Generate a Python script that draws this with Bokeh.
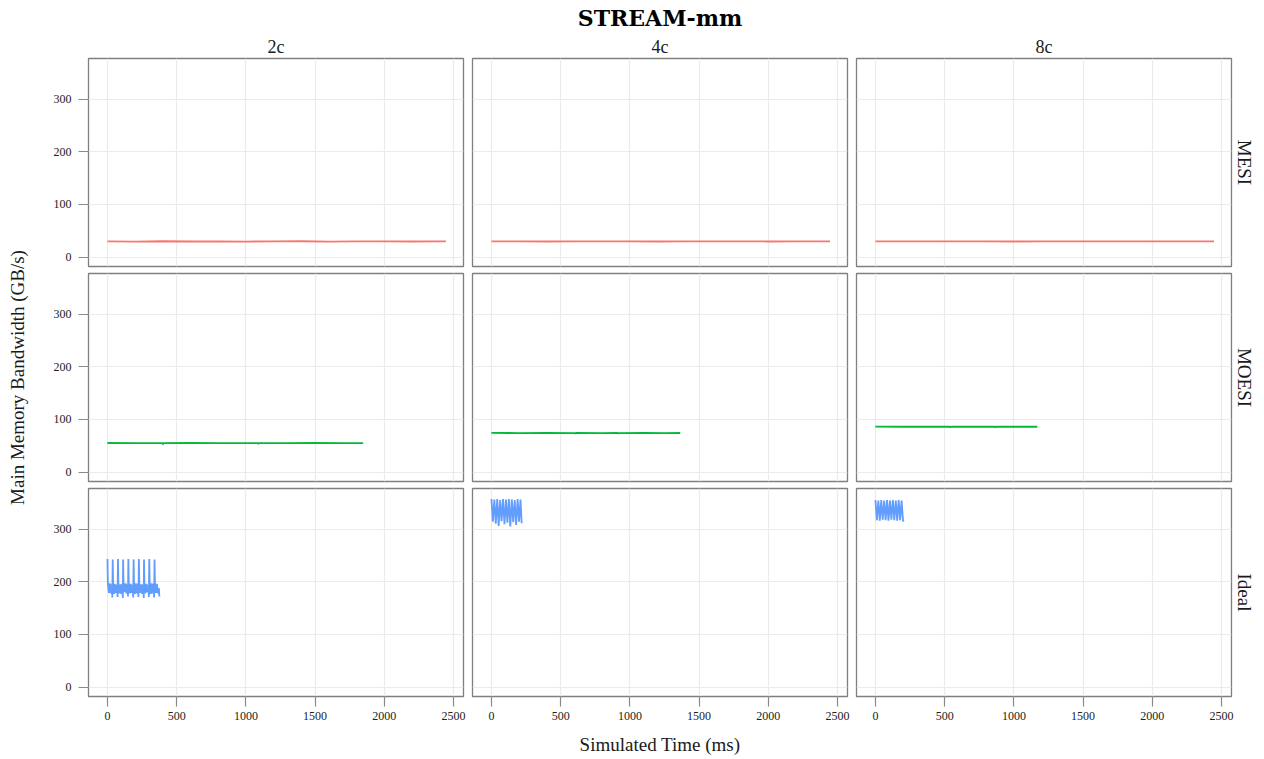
from bokeh.plotting import figure
from bokeh.layouts import gridplot, row
from bokeh.models import Range1d, LinearAxis, Grid, FixedTicker, Title
from bokeh.embed import file_html
from bokeh.resources import INLINE

# ---------------- data ----------------
cores = ["2c", "4c", "8c"]
protocols = ["MESI", "MOESI", "Ideal"]
x_ticks = [0, 500, 1000, 1500, 2000, 2500]
y_ticks = [0, 100, 200, 300]
chart_title = "STREAM-mm"
x_title = "Simulated Time (ms)"
y_title = "Main Memory Bandwidth (GB/s)"
colors = {"MESI": "#F8766D", "MOESI": "#00BA38", "Ideal": "#619CFF"}

mesi_2c_t = [0, 200, 400, 600, 800, 1000, 1200, 1400, 1600, 1800, 2000, 2200, 2400, 2445]
mesi_2c_v = [29.8, 29.5, 30.0, 29.6, 29.9, 29.4, 29.8, 30.0, 29.5, 29.7, 29.9, 29.6, 29.8, 29.7]
mesi_4c_t = [0, 200, 400, 600, 800, 1000, 1200, 1400, 1600, 1800, 2000, 2200, 2400, 2446]
mesi_4c_v = [29.7, 29.8, 29.6, 29.8, 29.7, 29.8, 29.6, 29.7, 29.8, 29.7, 29.6, 29.8, 29.7, 29.7]
mesi_8c_t = [0, 200, 400, 600, 800, 1000, 1200, 1400, 1600, 1800, 2000, 2200, 2400, 2446]
mesi_8c_v = [29.7, 29.7, 29.8, 29.7, 29.7, 29.6, 29.7, 29.8, 29.7, 29.7, 29.7, 29.8, 29.7, 29.7]

moesi_2c_t = [0, 200, 396, 400, 404, 600, 800, 1000, 1086, 1090, 1094, 1300, 1500, 1700, 1847]
moesi_2c_v = [55.2, 55.0, 55.1, 52.8, 55.0, 55.2, 55.0, 55.1, 55.0, 52.9, 55.1, 55.0, 55.2, 55.0, 55.1]
moesi_4c_t = [0, 200, 400, 602, 606, 610, 800, 912, 916, 920, 1100, 1250, 1364]
moesi_4c_v = [74.3, 74.1, 74.2, 74.1, 72.6, 74.2, 74.1, 74.2, 72.8, 74.1, 74.2, 74.1, 74.2]
moesi_8c_t = [0, 200, 400, 536, 540, 544, 700, 862, 866, 870, 1000, 1169]
moesi_8c_v = [86.2, 86.0, 86.1, 86.0, 84.6, 86.1, 86.0, 86.1, 84.8, 86.0, 86.1, 86.0]

ideal_2c_t = [0, 3, 10, 17, 24, 31, 35,
              38, 41, 48, 55, 62, 69, 73,
              76, 79, 86, 93, 100, 107, 111,
              113, 116, 123, 130, 137, 144, 148,
              151, 154, 161, 168, 175, 182, 186,
              189, 192, 199, 206, 213, 220, 224,
              227, 230, 237, 244, 251, 258, 262,
              264, 267, 274, 281, 288, 295, 299,
              302, 305, 312, 319, 326, 333, 337,
              340, 343, 350, 357, 364, 371, 375]
ideal_2c_v = [243, 196, 179, 197, 178, 195, 170,
              242, 195, 177, 196, 179, 194, 171,
              243, 197, 178, 195, 177, 196, 169,
              242, 196, 180, 197, 178, 195, 172,
              243, 195, 178, 196, 179, 194, 170,
              242, 196, 177, 197, 178, 196, 171,
              243, 197, 179, 195, 177, 195, 169,
              242, 195, 178, 196, 180, 194, 171,
              243, 196, 177, 197, 178, 196, 170,
              242, 197, 179, 196, 178, 188, 172]
ideal_4c_t = [0, 10, 21, 31, 42, 52, 63, 73, 84, 94, 105, 115, 126, 136, 147, 157,
              168, 178, 189, 199, 210, 218]
ideal_4c_v = [357, 314, 356, 310, 357, 306, 355, 315, 357, 309, 356, 312, 357, 305, 356, 313,
              355, 308, 357, 314, 356, 311]
ideal_8c_t = [0, 10, 21, 31, 42, 52, 63, 73, 84, 94, 105, 115, 126, 136, 147, 157,
              168, 178, 189, 199, 206]
ideal_8c_v = [355, 317, 354, 316, 355, 318, 354, 317, 355, 316, 354, 318, 355, 317, 354, 316,
              355, 317, 354, 316, 315]

series = {
    ("MESI", "2c"): (mesi_2c_t, mesi_2c_v),
    ("MESI", "4c"): (mesi_4c_t, mesi_4c_v),
    ("MESI", "8c"): (mesi_8c_t, mesi_8c_v),
    ("MOESI", "2c"): (moesi_2c_t, moesi_2c_v),
    ("MOESI", "4c"): (moesi_4c_t, moesi_4c_v),
    ("MOESI", "8c"): (moesi_8c_t, moesi_8c_v),
    ("Ideal", "2c"): (ideal_2c_t, ideal_2c_v),
    ("Ideal", "4c"): (ideal_4c_t, ideal_4c_v),
    ("Ideal", "8c"): (ideal_8c_t, ideal_8c_v),
}

# ---------------- style ----------------
FONT = "Liberation Serif"
GRID_COLOR = "#EBEBEB"
BORDER_COLOR = "#7F7F7F"
TICK_COLOR = "#8A8A8A"
TEXT_COLOR = "#1A1A1A"
LEFT_W = 30


def style_axis(ax):
    ax.axis_line_color = None
    ax.major_tick_line_color = TICK_COLOR
    ax.major_tick_line_width = 1.2
    ax.major_tick_out = 10
    ax.major_tick_in = 0
    ax.minor_tick_line_color = None
    ax.major_label_text_font = FONT
    ax.major_label_text_font_size = "12px"
    ax.major_label_text_color = "#222222"
    ax.axis_label_text_font = FONT
    ax.axis_label_text_font_size = "19px"
    ax.axis_label_text_font_style = "normal"
    ax.axis_label_text_color = TEXT_COLOR


rows = []
for ri, prot in enumerate(protocols):
    prow = []
    for ci, core in enumerate(cores):
        p = figure(
            frame_width=375, frame_height=208,
            x_range=Range1d(-137, 2572), y_range=Range1d(-17.9, 377),
            x_axis_location=None, y_axis_location=None,
            output_backend="svg", toolbar_location=None,
            background_fill_color="white", border_fill_color="white",
        )
        p.grid.visible = False
        p.outline_line_color = BORDER_COLOR
        p.outline_line_width = 1.3

        p.add_layout(Grid(dimension=0, ticker=FixedTicker(ticks=x_ticks),
                          grid_line_color=GRID_COLOR, grid_line_width=1.2))
        p.add_layout(Grid(dimension=1, ticker=FixedTicker(ticks=y_ticks),
                          grid_line_color=GRID_COLOR, grid_line_width=1.2))

        t, v = series[(prot, core)]
        p.line(t, v, line_color=colors[prot], line_width=1.8)

        # borders
        p.min_border_left = (88 - LEFT_W) if ci == 0 else 5
        p.min_border_right = 4 if ci < 2 else 33
        p.min_border_top = 58 if ri == 0 else 4
        p.min_border_bottom = 3 if ri < 2 else 63

        if ci == 0:
            yax = LinearAxis(ticker=FixedTicker(ticks=y_ticks))
            style_axis(yax)
            yax.major_label_standoff = 7
            p.add_layout(yax, "left")
        if ri == 2:
            xax = LinearAxis(ticker=FixedTicker(ticks=x_ticks))
            style_axis(xax)
            xax.major_label_standoff = 5
            if ci == 1:
                xax.axis_label = x_title
                xax.axis_label_standoff = 11
            p.add_layout(xax, "below")
        if ri == 0:
            p.add_layout(Title(text=core, align="center", text_font=FONT,
                               text_font_size="18px", text_font_style="normal",
                               text_color=TEXT_COLOR, standoff=4), "above")
            if ci == 1:
                p.add_layout(Title(text=chart_title, align="center", text_font="DejaVu Serif",
                                   text_font_size="22px", text_font_style="bold",
                                   text_color="black", standoff=4), "above")
        if ci == 2:
            p.add_layout(Title(text=prot, align="center", text_font=FONT,
                               text_font_size="19px", text_font_style="normal",
                               text_color=TEXT_COLOR, standoff=4), "right")
        prow.append(p)
    rows.append(prow)

grid = gridplot(rows, toolbar_location=None)

# narrow strip on the left carrying the shared y-axis title
left = figure(
    width=LEFT_W, height=759,
    x_axis_location=None, y_axis_location=None,
    output_backend="svg", toolbar_location=None,
    background_fill_color="white", border_fill_color="white",
    min_border_left=LEFT_W - 2, min_border_right=0,
    min_border_top=0, min_border_bottom=5,
)
left.outline_line_color = None
left.grid.visible = False
left.add_layout(Title(text=y_title, align="center", text_font=FONT,
                      text_font_size="19px", text_font_style="normal",
                      text_color=TEXT_COLOR, standoff=1), "left")

layout = row(left, grid)

with open("out.html", "w") as f:
    f.write(file_html(layout, INLINE, title="STREAM-mm"))
